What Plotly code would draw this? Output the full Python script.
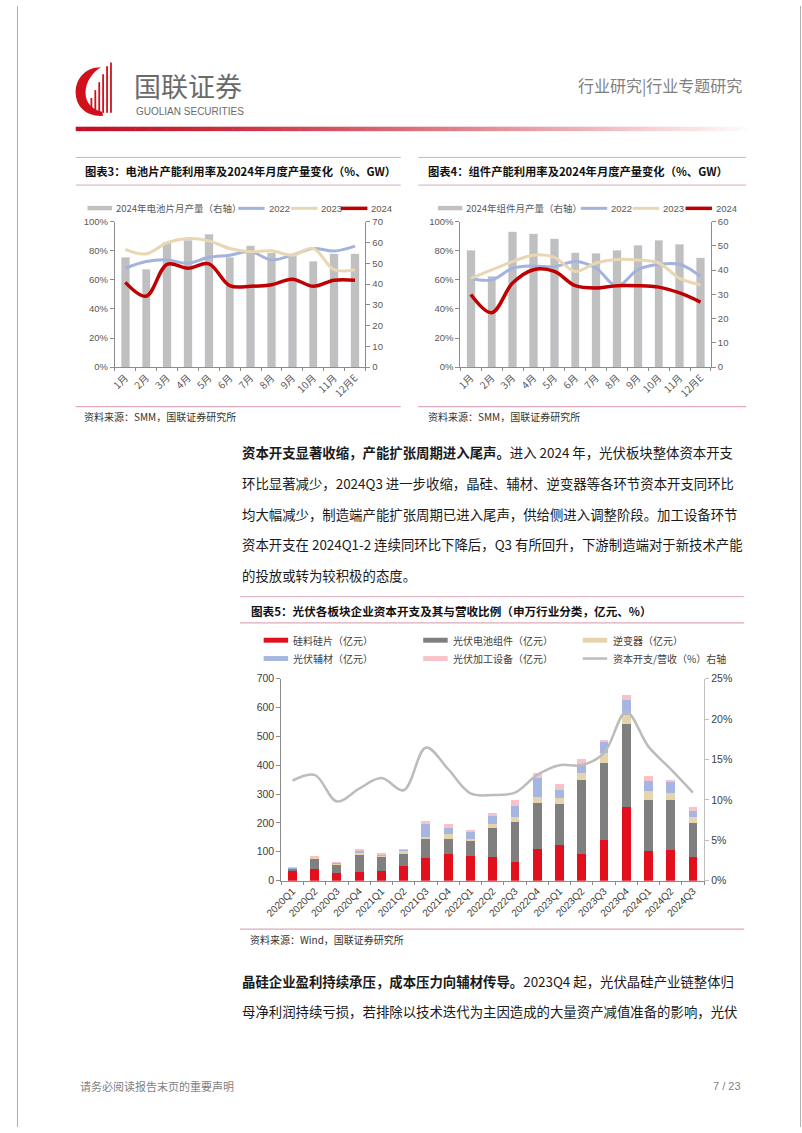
import re
import plotly.graph_objects as go

W, H = 802, 1133
def X(px): return px / W
def Y(py): return 1 - py / H

# ---------------- data ----------------
months = ['1月', '2月', '3月', '4月', '5月', '6月', '7月', '8月', '9月', '10月', '11月', '12月E']

# 图表3 电池片
cell_prod_2024 = [53, 47, 60, 61, 64, 53, 58.5, 55, 54.5, 51, 54.5, 54.5]          # GW, right axis
cell_util_2022 = [68, 72.6, 73.7, 71.4, 75.5, 77, 79.4, 73.7, 77, 81.6, 79.8, 83.2]  # %
cell_util_2023 = [81, 77.8, 85.5, 88.4, 86.8, 81.6, 79.4, 80, 77, 81.6, 67, 67]
cell_util_2024 = [58.3, 48.8, 70.7, 68, 71, 56, 55.6, 56.7, 60.5, 55.6, 59.7, 59.7]

# 图表4 组件
module_prod_2024 = [48.3, 37.5, 55.8, 55.1, 52.9, 47.2, 46.9, 48.2, 50.3, 52.4, 50.6, 45.2]
module_util_2022 = [61, 60, 68, 69.6, 69, 72.6, 68, 55.6, 67, 70.7, 70.7, 62.4]
module_util_2023 = [61, 66.9, 72.6, 77, 75.5, 65.8, 71.6, 74, 73.7, 71.6, 61, 56.7]
module_util_2024 = [49.9, 37.4, 57.8, 67, 65.8, 56, 54.4, 56, 56, 55, 51, 44.7]

# 图表5 资本开支
quarters = ['2020Q1', '2020Q2', '2020Q3', '2020Q4', '2021Q1', '2021Q2', '2021Q3', '2021Q4',
            '2022Q1', '2022Q2', '2022Q3', '2022Q4', '2023Q1', '2023Q2', '2023Q3', '2023Q4',
            '2024Q1', '2024Q2', '2024Q3']
silicon = [32, 42, 25, 30, 35, 52, 80, 94, 86, 83, 63, 108, 125, 94, 140, 254, 102, 105, 82]
cell_module = [10, 37, 31, 58, 48, 42, 63, 49, 51, 100, 139, 160, 140, 254, 268, 288, 177, 174, 117]
inverter = [2, 2, 5, 12, 6, 10, 8, 19, 8, 14, 20, 22, 23, 26, 35, 32, 32, 26, 21]
auxiliary = [2, 1, 2, 4, 3, 3, 46, 21, 23, 28, 37, 67, 25, 29, 37, 52, 34, 38, 23]
equipment = [1, 1, 2, 3, 2, 3, 11, 12, 9, 8, 20, 17, 21, 20, 8, 19, 17, 5, 11]
capex_ratio = [12.4, 13.1, 9.8, 11.4, 12.7, 11.2, 16.5, 13.8, 10.8, 10.6, 10.9, 13.1,
               14.3, 14.3, 15.8, 20.9, 16.6, 13.8, 10.9]

# ---------------- styles ----------------
C_BAR = '#c0c0c0'
C_22 = '#a3b3de'
C_23 = '#e8d7b2'
C_24 = '#c00000'
C5 = dict(si='#e2101c', cm='#7f7f7f', inv='#e6d4ad', aux='#a7b5e2', eq='#f8c3c8', line='#bcbcbc')
CJK = 'Noto Sans CJK SC'
LAT = 'Liberation Sans, Arial'
PINK = '#dcaabb'

fig = go.Figure()

# ---------------- chart 3 ----------------
fig.add_trace(go.Bar(x=months, y=cell_prod_2024, marker_color=C_BAR, xaxis='x', yaxis='y',
                     showlegend=False))
for vals, col, w in [(cell_util_2022, C_22, 3), (cell_util_2023, C_23, 3), (cell_util_2024, C_24, 3.5)]:
    fig.add_trace(go.Scatter(x=months, y=vals, mode='lines',
                             line=dict(color=col, width=w, shape='spline', smoothing=1),
                             xaxis='x', yaxis='y2', showlegend=False))

# ---------------- chart 4 ----------------
fig.add_trace(go.Bar(x=months, y=module_prod_2024, marker_color=C_BAR, xaxis='x2', yaxis='y3',
                     showlegend=False))
for vals, col, w in [(module_util_2022, C_22, 3), (module_util_2023, C_23, 3), (module_util_2024, C_24, 3.5)]:
    fig.add_trace(go.Scatter(x=months, y=vals, mode='lines',
                             line=dict(color=col, width=w, shape='spline', smoothing=1),
                             xaxis='x2', yaxis='y4', showlegend=False))

# ---------------- chart 5 ----------------
for vals, col in [(silicon, C5['si']), (cell_module, C5['cm']), (inverter, C5['inv']),
                  (auxiliary, C5['aux']), (equipment, C5['eq'])]:
    fig.add_trace(go.Bar(x=quarters, y=vals, marker_color=col, marker_line_width=0,
                         xaxis='x3', yaxis='y5', showlegend=False))
fig.add_trace(go.Scatter(x=quarters, y=capex_ratio, mode='lines',
                         line=dict(color=C5['line'], width=2.5, shape='spline', smoothing=1),
                         xaxis='x3', yaxis='y6', showlegend=False))

def yax(**kw):
    d = dict(showline=True, linecolor='#8c8c8c', linewidth=1, ticks='outside', tickcolor='#8c8c8c',
             ticklen=4, showgrid=False, zeroline=False,
             tickfont=dict(family=LAT, size=9.5, color='#595959'))
    d.update(kw)
    return d

def xax(**kw):
    d = dict(type='category', showline=True, linecolor='#8c8c8c', linewidth=1, ticks='outside',
             tickson='boundaries', tickcolor='#8c8c8c', ticklen=3, showgrid=False, zeroline=False,
             tickangle=-45, tickfont=dict(family=CJK, size=10, color='#595959'))
    d.update(kw)
    return d

fig.update_layout(
    width=W, height=H, margin=dict(l=0, r=0, t=0, b=0),
    paper_bgcolor='white', plot_bgcolor='rgba(0,0,0,0)',
    barmode='stack', bargap=0.6, showlegend=False,
    xaxis=xax(domain=[X(100), X(356)], anchor='y'),
    yaxis=yax(domain=[Y(365), Y(218)], anchor='x', side='right', range=[0, 70], dtick=10),
    yaxis2=yax(overlaying='y', anchor='x', side='left', range=[0, 100], dtick=20, ticksuffix='%'),
    xaxis2=xax(domain=[X(453), X(709)], anchor='y3'),
    yaxis3=yax(domain=[Y(365), Y(218)], anchor='x2', side='right', range=[0, 60], dtick=10),
    yaxis4=yax(overlaying='y3', anchor='x2', side='left', range=[0, 100], dtick=20, ticksuffix='%'),
    xaxis3=xax(domain=[X(270), X(702)], anchor='y5',
               tickfont=dict(family=LAT, size=10, color='#404040')),
    yaxis5=yax(domain=[Y(884), Y(680)], anchor='x3', side='left', range=[0, 700], dtick=100,
               tickfont=dict(family=LAT, size=10.5, color='#404040')),
    yaxis6=yax(overlaying='y5', anchor='x3', side='right', range=[0, 25], dtick=5, ticksuffix='%',
               linecolor='#bfbfbf', tickcolor='#bfbfbf',
               tickfont=dict(family=LAT, size=10.5, color='#404040')),
)

shapes = []
annots = []

def txt(x, y, s, size=10, color='#333333', anchor='left', family=CJK, yanchor='middle'):
    annots.append(dict(x=X(x), y=Y(y), xref='paper', yref='paper', text=s, showarrow=False,
                       xanchor=anchor, yanchor=yanchor, font=dict(family=family, size=size, color=color)))

def hline(x0, x1, y, color, w=1):
    shapes.append(dict(type='line', xref='paper', yref='paper', x0=X(x0), x1=X(x1), y0=Y(y), y1=Y(y),
                       line=dict(color=color, width=w)))

def rect(x0, x1, y0, y1, color):
    shapes.append(dict(type='rect', xref='paper', yref='paper', x0=X(x0), x1=X(x1), y0=Y(y1), y1=Y(y0),
                       fillcolor=color, line=dict(width=0)))

def ppath(s, color):
    toks = re.findall(r'[MLCZ]|-?\d+\.?\d*', s)
    out, nums = [], []
    for t in toks:
        if t in ('M', 'L', 'C', 'Z'):
            out.append(t)
        else:
            nums.append(float(t))
            if len(nums) == 2:
                out.append(f"{X(nums[0]):.5f},{Y(nums[1]):.5f}")
                nums = []
    shapes.append(dict(type='path', xref='paper', yref='paper', path=' '.join(out),
                       fillcolor=color, line=dict(width=0)))

# page border
shapes.append(dict(type='line', xref='paper', yref='paper', x0=X(0.5), x1=X(0.5), y0=0, y1=1,
                   line=dict(color='#b0b0b0', width=1)))
shapes.append(dict(type='line', xref='paper', yref='paper', x0=X(800.5), x1=X(800.5), y0=0, y1=1,
                   line=dict(color='#b0b0b0', width=1)))

# ---------------- header ----------------
ppath('M 86 62 C 68 62 59 76 60 89 C 61 103 72 112 88 111 L 87 107 C 77 105 70 98 70 88 C 70 77 77 67 86 62 Z', '#d0111b')
for xx, top in [(76, 93), (80, 85), (84, 77), (88, 69), (92, 61), (96, 57)]:
    shapes.append(dict(type='line', xref='paper', yref='paper', x0=X(xx), x1=X(xx), y0=Y(108), y1=Y(top),
                       line=dict(color='#d0111b', width=1.8)))
txt(118, 80, '国联证券', size=27, color='#6b6b6b')
txt(120, 106.5, 'GUOLIAN SECURITIES', size=10, color='#6b6b6b', family=LAT)
txt(743, 80, '行业研究|行业专题研究', size=16, color='#7f7f7f', anchor='right')

# gradient rule
N = 90
x_start, x_end = 60, 745
for i in range(N):
    t = i / (N - 1)
    tt = t ** 1.3
    r = int(196 + (255 - 196) * tt)
    g = int(16 + (250 - 16) * tt)
    b = int(36 + (250 - 36) * tt)
    xa = x_start + (x_end - x_start) * i / N
    xb = x_start + (x_end - x_start) * (i + 1) / N + 0.5
    rect(xa, xb, 122, 126.5, f'rgb({r},{g},{b})')

# ---------------- chart 3/4 titles, legends, sources ----------------
for (x0, x1, tx, title) in [(60, 392, 67, '图表3：电池片产能利用率及2024年月度产量变化（%、GW）'),
                            (410, 745, 418, '图表4：组件产能利用率及2024年月度产量变化（%、GW）')]:
    hline(x0, x1, 153, PINK, 1)
    hline(x0, x1, 181, PINK, 1)
    txt(tx, 167, '<b>' + title + '</b>', size=11.3, color='#111111')
    hline(x0, x1, 405, PINK, 1.2)

txt(66, 415, '资料来源：SMM，国联证券研究所', size=10, color='#333333')
txt(418, 415, '资料来源：SMM，国联证券研究所', size=10, color='#333333')

LEGC = '#595959'
# chart3 legend
rect(72, 97, 202, 206.5, C_BAR)
txt(99, 204.5, '2024年电池片月产量（右轴）', size=9.5, color=LEGC)
hline(226, 253, 204.5, C_22, 3)
txt(255, 204.5, '2022', size=9.5, color=LEGC, family=LAT)
hline(280, 307, 204.5, C_23, 3)
txt(309, 204.5, '2023', size=9.5, color=LEGC, family=LAT)
hline(331, 358, 204.5, C_24, 3.5)
txt(360, 204.5, '2024', size=9.5, color=LEGC, family=LAT)
# chart4 legend
rect(430, 455, 202, 206.5, C_BAR)
txt(457, 204.5, '2024年组件月产量（右轴）', size=9.5, color=LEGC)
hline(576, 603, 204.5, C_22, 3)
txt(605, 204.5, '2022', size=9.5, color=LEGC, family=LAT)
hline(629, 656, 204.5, C_23, 3)
txt(658, 204.5, '2023', size=9.5, color=LEGC, family=LAT)
hline(683, 710, 204.5, C_24, 3.5)
txt(712, 204.5, '2024', size=9.5, color=LEGC, family=LAT)

# ---------------- paragraph 1 ----------------
BODY = '#1a1a1a'
p1 = ['<b>资本开支显著收缩，产能扩张周期进入尾声。</b>进入 2024 年，光伏板块整体资本开支',
      '环比显著减少，2024Q3 进一步收缩，晶硅、辅材、逆变器等各环节资本开支同环比',
      '均大幅减少，制造端产能扩张周期已进入尾声，供给侧进入调整阶段。加工设备环节',
      '资本开支在 2024Q1-2 连续同环比下降后，Q3 有所回升，下游制造端对于新技术产能',
      '的投放或转为较积极的态度。']
for i, line in enumerate(p1):
    txt(228, 451 + i * 31, line, size=13.4, color=BODY)

# ---------------- chart 5 title/legend/source ----------------
hline(228, 743, 597, PINK, 1)
txt(237, 611, '<b>图表5：光伏各板块企业资本开支及其与营收比例（申万行业分类，亿元、%）</b>', size=11.6, color='#111111')
hline(228, 743, 623.5, PINK, 1.2)

L5C = '#404040'
rect(252, 277, 638.5, 643.5, C5['si'])
txt(280, 641, '硅料硅片（亿元）', size=10, color=L5C)
rect(415, 440, 638.5, 643.5, C5['cm'])
txt(443, 641, '光伏电池组件（亿元）', size=10, color=L5C)
rect(578, 603, 638.5, 643.5, C5['inv'])
txt(607, 641, '逆变器（亿元）', size=10, color=L5C)
rect(252, 277, 657, 662, C5['aux'])
txt(280, 659.5, '光伏辅材（亿元）', size=10, color=L5C)
rect(415, 440, 657, 662, C5['eq'])
txt(443, 659.5, '光伏加工设备（亿元）', size=10, color=L5C)
hline(578, 603, 659.5, C5['line'], 2.5)
txt(607, 659.5, '资本开支/营收（%）右轴', size=10, color=L5C)

hline(228, 743, 933, PINK, 1.2)
txt(236, 943, '资料来源：Wind，国联证券研究所', size=10, color='#333333')

# ---------------- paragraph 2 ----------------
p2 = ['<b>晶硅企业盈利持续承压，成本压力向辅材传导。</b>2023Q4 起，光伏晶硅产业链整体归',
      '母净利润持续亏损，若排除以技术迭代为主因造成的大量资产减值准备的影响，光伏']
for i, line in enumerate(p2):
    txt(228, 985 + i * 31, line, size=13.4, color=BODY)

# ---------------- footer ----------------
txt(62, 1092, '请务必阅读报告末页的重要声明', size=11, color='#7f7f7f')
txt(742, 1092, '7 / 23', size=11, color='#7f7f7f', anchor='right', family=LAT)

fig.update_layout(shapes=shapes, annotations=annots)
fig.write_html('out.html')
